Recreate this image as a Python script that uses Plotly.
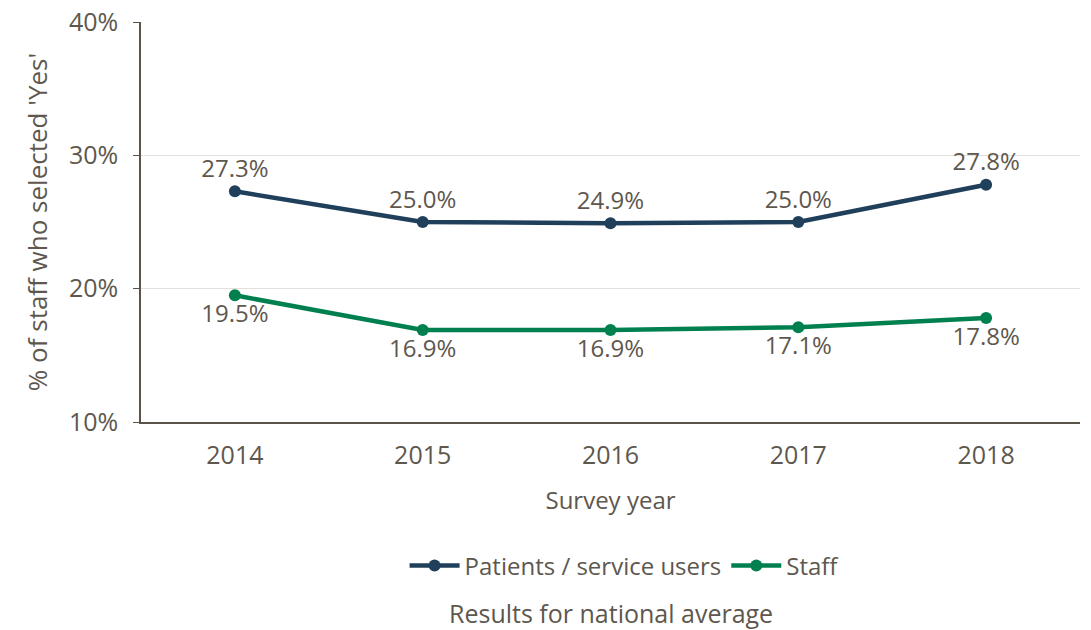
import plotly.graph_objects as go

years = ["2014", "2015", "2016", "2017", "2018"]
patients = [27.3, 25.0, 24.9, 25.0, 27.8]
staff = [19.5, 16.9, 16.9, 17.1, 17.8]
y_ticks = [10, 20, 30, 40]
y_tick_labels = ["10%", "20%", "30%", "40%"]

NAVY = "#1f3f5b"
GREEN = "#00804f"
TEXT = "#5e574e"
FONT = "Open Sans"

fig = go.Figure()
fig.add_trace(go.Scatter(
    x=years, y=patients, name="Patients / service users",
    mode="lines+markers+text",
    line=dict(color=NAVY, width=4.5),
    marker=dict(color=NAVY, size=12),
    text=[f"{v:.1f}%" for v in patients],
    textposition="top center",
    textfont=dict(size=24, color=TEXT, family=FONT),
    cliponaxis=False,
))
fig.add_trace(go.Scatter(
    x=years, y=staff, name="Staff",
    mode="lines+markers+text",
    line=dict(color=GREEN, width=4.5),
    marker=dict(color=GREEN, size=12),
    text=[f"{v:.1f}%" for v in staff],
    textposition="bottom center",
    textfont=dict(size=24, color=TEXT, family=FONT),
    cliponaxis=False,
))

fig.update_layout(
    width=1091, height=630,
    margin=dict(l=141, r=11, t=22, b=208, autoexpand=False),
    paper_bgcolor="white", plot_bgcolor="white",
    font=dict(family=FONT, size=24, color=TEXT),
    showlegend=True,
    legend=dict(orientation="h", x=0.515, xanchor="center", y=-0.36, yanchor="middle",
                font=dict(size=24, color=TEXT), traceorder="normal", itemwidth=50),
    annotations=[dict(text="Results for national average", x=0.5, y=-0.4775,
                      xref="paper", yref="paper", showarrow=False,
                      font=dict(size=25, color=TEXT), xanchor="center", yanchor="middle")],
)
fig.update_xaxes(
    type="category", range=[-0.5, 4.5], automargin=False,
    showline=True, linecolor="#5a534a", linewidth=1.5,
    showgrid=False, ticks="", ticklabelstandoff=10,
    tickfont=dict(size=25, color=TEXT),
    title=dict(text="Survey year", font=dict(size=24, color=TEXT), standoff=22),
)
fig.update_yaxes(
    range=[10, 40], tickvals=y_ticks, ticktext=y_tick_labels, automargin=False,
    showline=True, linecolor="#5a534a", linewidth=1.5,
    ticks="outside", ticklen=6, tickcolor="#5a534a", ticklabelstandoff=10,
    showgrid=True, gridcolor="#e3e0dc", gridwidth=1,
    tickfont=dict(size=25, color=TEXT),
    title=dict(text="% of staff who selected 'Yes'", font=dict(size=26, color=TEXT), standoff=14),
    zeroline=False,
)

fig.write_html("out.html", config={"displayModeBar": False},
               post_script="document.body.style.margin='0';")
